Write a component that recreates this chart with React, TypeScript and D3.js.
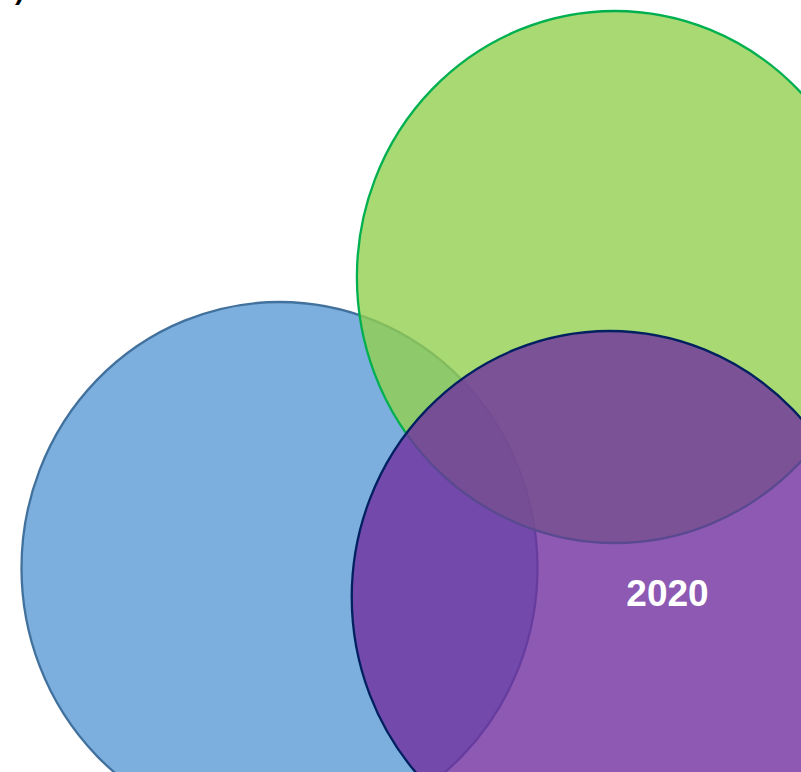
import React from "react";
import * as d3 from "d3";

// Venn sets (centres in radius units, y pointing up), label and colours
const setNames = ["Set A", "Set B", "2020"];
const setLabels = ["", "", "2020"];
const setCenterX = [0, 1.3, 1.28];
const setCenterY = [0, 1.094, -0.109];
const setRadius = [1, 1, 1];
const fillColors = ["#5b9bd5", "#92d050", "#7030a0"];
const strokeColors = ["#41719c", "#00b050", "#002060"];
const labelOffsetX = [0, 0, 0.22];
const labelOffsetY = [0, 0, 0.012];

const W = 801;
const H = 772;

export default function App() {
  const x = d3.scaleLinear().domain([0, 1]).range([279.5, 537.5]);
  const y = d3.scaleLinear().domain([0, 1]).range([568, 302]);
  const color = d3.scaleOrdinal<string, string>().domain(setNames).range(fillColors);
  const stroke = d3.scaleOrdinal<string, string>().domain(setNames).range(strokeColors);

  const sets = setNames.map((n, i) => ({
    name: n,
    label: setLabels[i],
    cx: x(setCenterX[i]),
    cy: y(setCenterY[i]),
    rx: x(setRadius[i]) - x(0),
    ry: y(0) - y(setRadius[i]),
    lx: x(setCenterX[i] + labelOffsetX[i]),
    ly: y(setCenterY[i] + labelOffsetY[i]),
  }));

  return (
    <div style={{ position: "absolute", left: 0, top: 0 }}>
      <svg width={W} height={H} style={{ display: "block", background: "#ffffff" }}>
        <text
          x={15}
          y={-1}
          fontFamily="Liberation Sans, Arial, sans-serif"
          fontSize={28}
          fontWeight="bold"
          fill="#000"
        >
          )
        </text>
        {sets.map((s) => (
          <ellipse
            key={s.name}
            cx={s.cx}
            cy={s.cy}
            rx={s.rx}
            ry={s.ry}
            fill={color(s.name)}
            fillOpacity={0.8}
            stroke={stroke(s.name)}
            strokeWidth={2.3}
          />
        ))}
        {sets.map((s) =>
          s.label ? (
            <text
              key={"l" + s.name}
              x={s.lx + 1}
              y={s.ly}
              textAnchor="middle"
              dominantBaseline="central"
              fontFamily="Liberation Sans, Arial, sans-serif"
              fontWeight="bold"
              fontSize={37}
              fill="#ffffff"
            >
              {s.label}
            </text>
          ) : null
        )}
      </svg>
    </div>
  );
}
